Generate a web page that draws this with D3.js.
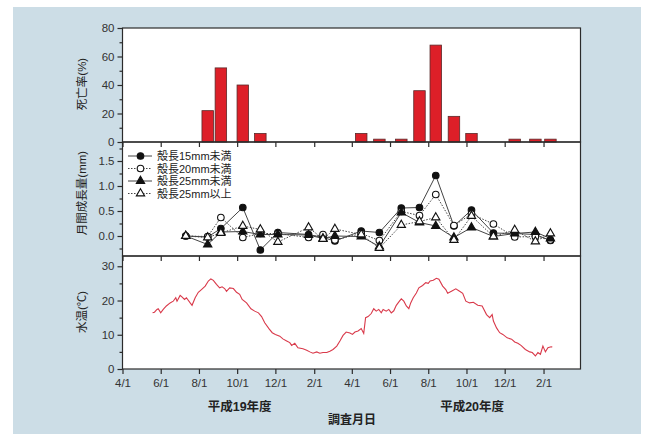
<!DOCTYPE html>
<html><head><meta charset="utf-8">
<script src="https://cdn.jsdelivr.net/npm/d3@7"></script>
<style>
body{margin:0;background:#fff;}
svg{display:block;}
text{font-family:"Liberation Sans",Arial,"Noto Sans CJK JP",sans-serif;}
</style></head><body>
<svg id="c" width="645" height="434"></svg>
<script>
// ---------- data ----------
const sampleDates = ["2007-07-11","2007-08-15","2007-09-05","2007-10-10","2007-11-07","2007-12-05",
  "2008-01-23","2008-02-15","2008-03-05","2008-04-16","2008-05-15","2008-06-19","2008-07-18",
  "2008-08-13","2008-09-11","2008-10-09","2008-11-13","2008-12-17","2009-01-19","2009-02-12"];
const mortality = [0,22,52,40,6,0,0,0,0,6,2,2,36,68,18,6,0,2,2,2];
const growth15   = [0.00,-0.02,0.15,0.57,-0.28,0.07,0.03,-0.03,-0.10,0.10,0.07,0.56,0.57,1.21,0.20,0.52,0.06,0.05,0.03,-0.09];
const growth20   = [0.00,-0.01,0.37,-0.03,0.05,0.05,-0.03,0.03,-0.08,0.05,-0.09,0.49,0.41,0.83,0.21,0.44,0.24,-0.02,-0.01,-0.08];
const growth25   = [0.00,-0.17,0.08,0.09,0.03,0.03,0.02,-0.05,0.00,-0.01,-0.21,0.47,0.27,0.20,-0.03,0.17,-0.01,0.05,0.08,-0.05];
const growth25up = [0.00,-0.03,0.06,0.20,0.13,-0.12,0.17,-0.06,0.14,0.03,-0.24,0.22,0.29,0.37,-0.08,0.40,-0.01,0.12,-0.11,0.05];
const seriesNames = ["殻長15mm未満","殻長20mm未満","殻長25mm未満","殻長25mm以上"];
// water temperature: days since 2007-04-01 and value (°C)
const tempDay = [48,51,55,57,61,65,70,76,81,85,87,92,94,99,102,108,111,116,121,126,132,137,141,145,150,155,159,163,166,171,177,182,187,191,198,205,211,217,222,227,234,239,244,251,256,262,267,270,275,280,288,294,299,304,310,315,320,326,331,336,342,347,352,357,363,367,371,376,381,385,388,392,397,401,405,409,413,416,421,425,429,433,437,442,445,449,453,457,460,464,469,473,479,484,488,491,496,501,505,511,516,519,525,532,538,543,548,554,560,567,574,581,586,590,592,597,602,607,614,621,626,631,636,643,650,654,659,663,667,671,675,679,684,686];
const tempValue = [16.4,16.6,17.4,17.6,16.4,17.4,18.4,19.3,19.8,20.8,19.8,21.5,21.2,20.3,20.8,19.3,18.6,20.8,22.4,23.2,24.2,25.7,26.3,25.9,24.7,23.7,24.0,23.5,22.7,23.7,23.5,22.4,21.8,20.3,19.3,17.6,16.9,16.4,15.3,13.5,11.7,10.6,10.1,9.6,8.8,8.2,7.7,6.9,7.5,6.2,5.9,5.5,5.0,4.6,5.0,4.6,4.8,4.8,5.2,5.7,6.7,8.2,9.8,10.8,10.5,10.1,10.8,11.1,11.8,10.4,15.0,15.3,16.2,17.6,16.9,17.4,16.4,17.4,16.9,17.4,16.4,17.0,18.6,19.8,20.5,19.8,18.4,17.6,19.3,20.8,22.2,23.7,24.4,25.2,25.0,25.7,25.9,26.5,26.2,24.2,23.2,22.1,22.7,23.4,22.7,22.1,19.8,19.3,19.5,18.6,18.4,15.9,15.0,15.9,14.0,12.0,10.6,10.1,9.1,8.7,7.9,7.5,6.9,5.7,5.0,4.8,3.8,4.8,4.3,6.7,5.0,6.2,6.5,6.4];
const monthTicks = ["2007-04-01","2007-06-01","2007-08-01","2007-10-01","2007-12-01","2008-02-01",
  "2008-04-01","2008-06-01","2008-08-01","2008-10-01","2008-12-01","2009-02-01"];
const monthLabels = ["4/1","6/1","8/1","10/1","12/1","2/1","4/1","6/1","8/1","10/1","12/1","2/1"];
const mortTicks = [0,20,40,60,80], mortMinor = [10,30,50,70];
const growthTicks = [0,0.5,1.0,1.5], growthMinor = [-0.25,0.25,0.75,1.25,1.75];
const tempTicks = [0,10,20,30], tempMinor = [5,15,25];
const fyLabels = ["平成19年度","平成20年度"];
const fyCenters = ["2007-10-05","2008-10-10"];

// ---------- layout ----------
const svg = d3.select("#c");
const L = 122.5, R = 580.5;
const P1 = [28,142], P2 = [142,256], P3 = [256,369];
const parse = d3.utcParse("%Y-%m-%d");
const base = parse("2007-04-01");
const x = d3.scaleUtc().domain([base, parse("2009-04-01")]).range([L, R]);
const yM = d3.scaleLinear().domain([0,80]).range([P1[1],P1[0]]);
const yG = d3.scaleLinear().domain([-0.4,1.88]).range([P2[1],P2[0]]);
const yT = d3.scaleLinear().domain([0,33]).range([P3[1],P3[0]]);
const AX = "#2b2b2b";

svg.append("rect").attr("x",13).attr("y",7).attr("width",628).attr("height",427).attr("fill","#ccdde6");
svg.append("rect").attr("x",L).attr("y",P1[0]).attr("width",R-L).attr("height",P3[1]-P1[0]).attr("fill","#fff");

// bars
const bw = 11.5;
svg.append("g").selectAll("rect").data(sampleDates.map((d,i)=>({d:parse(d),v:mortality[i]})).filter(o=>o.v>0))
  .join("rect")
  .attr("x",o=>x(o.d)-bw/2).attr("y",o=>yM(o.v)).attr("width",bw).attr("height",o=>yM(0)-yM(o.v))
  .attr("fill","#dd1f28").attr("stroke","#5a2a2a").attr("stroke-width",0.8);

// temperature line
const tdata = tempDay.map((d,i)=>({d:d3.utcDay.offset(base,d),v:tempValue[i]}));
svg.append("path").datum(tdata)
  .attr("d",d3.line().x(o=>x(o.d)).y(o=>yT(o.v)))
  .attr("fill","none").attr("stroke","#d9394a").attr("stroke-width",1.1);

// growth series
const series = [
  {vals:growth15, dash:null, filled:true, sym:"circle"},
  {vals:growth20, dash:"1.5,1.5", filled:false, sym:"circle"},
  {vals:growth25, dash:null, filled:true, sym:"tri"},
  {vals:growth25up, dash:"1.5,1.5", filled:false, sym:"tri"}
];
const gLine = d3.line().x(o=>x(o.d)).y(o=>yG(o.v));
series.forEach(s=>{
  const pts = sampleDates.map((d,i)=>({d:parse(d),v:s.vals[i]}));
  svg.append("path").datum(pts).attr("d",gLine).attr("fill","none")
    .attr("stroke","#444").attr("stroke-width",1).attr("stroke-dasharray",s.dash);
});
function marker(g, s, cx, cy){
  if(s.sym==="circle"){
    g.append("circle").attr("cx",cx).attr("cy",cy).attr("r",3.3)
      .attr("fill",s.filled?"#111":"#fff").attr("stroke","#111").attr("stroke-width",1.1);
  } else {
    g.append("path").attr("d",d3.symbol(d3.symbolTriangle,30)())
      .attr("transform",`translate(${cx},${cy})`)
      .attr("fill",s.filled?"#111":"#fff").attr("stroke","#111").attr("stroke-width",1.1);
  }
}
series.forEach(s=>{
  const g = svg.append("g");
  sampleDates.forEach((d,i)=>marker(g,s,x(parse(d)),yG(s.vals[i])));
});

// panel borders
[P1,P2,P3].forEach(p=>{
  svg.append("rect").attr("x",L).attr("y",p[0]).attr("width",R-L).attr("height",p[1]-p[0])
    .attr("fill","none").attr("stroke",AX).attr("stroke-width",1.2);
});

// x ticks
const mt = monthTicks.map(parse);
[P2[0],P3[0]].forEach(yy=>{
  svg.append("g").attr("transform",`translate(0,${yy})`)
    .call(d3.axisBottom(x).tickValues(mt).tickSize(5).tickFormat(""))
    .call(g=>{g.select(".domain").remove(); g.selectAll("line").attr("stroke",AX).attr("stroke-width",1.2);});
});
svg.append("g").attr("transform",`translate(0,${P3[1]})`)
  .call(d3.axisBottom(x).tickValues(mt).tickSize(5).tickPadding(5).tickFormat((d,i)=>monthLabels[i]))
  .call(g=>{g.select(".domain").remove(); g.selectAll("line").attr("stroke",AX).attr("stroke-width",1.2);
    g.selectAll("text").attr("font-size",11.5).attr("fill","#333").attr("font-family","Liberation Sans, Arial");});

// y axes
function yAxis(scale, ticks, minor, fmt){
  svg.append("g").attr("transform",`translate(${L},0)`)
    .call(d3.axisLeft(scale).tickValues(ticks).tickSize(5).tickPadding(3).tickFormat(fmt))
    .call(g=>{g.select(".domain").remove(); g.selectAll("line").attr("stroke",AX).attr("stroke-width",1.2);
      g.selectAll("text").attr("font-size",11.5).attr("fill","#333").attr("font-family","Liberation Sans, Arial");});
  svg.append("g").attr("transform",`translate(${L},0)`)
    .call(d3.axisLeft(scale).tickValues(minor).tickSize(3).tickFormat(""))
    .call(g=>{g.select(".domain").remove(); g.selectAll("line").attr("stroke",AX).attr("stroke-width",1.2);});
}
yAxis(yM, mortTicks, mortMinor, d3.format("d"));
yAxis(yG, growthTicks, growthMinor, d3.format(".1f"));
yAxis(yT, tempTicks, tempMinor, d3.format("d"));

// axis titles
const jp = "Liberation Sans, Noto Sans CJK JP";
function ytitle(txt, cy){
  svg.append("text").attr("transform",`translate(82,${cy}) rotate(-90)`)
    .attr("text-anchor","middle").attr("dominant-baseline","central")
    .attr("font-size",11.5).attr("fill","#222").attr("font-family",jp).text(txt);
}
ytitle("死亡率(%)", 84);
ytitle("月間成長量(mm)", 193);
ytitle("水温(℃)", 312);

fyLabels.forEach((t,i)=>{
  svg.append("text").attr("x",x(parse(fyCenters[i]))).attr("y",407).attr("text-anchor","middle")
    .attr("dominant-baseline","central").attr("font-size",12.5).attr("font-weight","bold")
    .attr("fill","#222").attr("font-family",jp).text(t);
});
svg.append("text").attr("x",352).attr("y",420).attr("text-anchor","middle").attr("dominant-baseline","central")
  .attr("font-size",12).attr("font-weight","bold").attr("fill","#222").attr("font-family",jp).text("調査月日");

// legend
const lg = svg.append("g");
const rowY = [156,168.5,181,193.5];
series.forEach((s,i)=>{
  lg.append("line").attr("x1",128).attr("x2",152).attr("y1",rowY[i]).attr("y2",rowY[i])
    .attr("stroke","#444").attr("stroke-width",1).attr("stroke-dasharray",s.dash);
  marker(lg,s,140.5,rowY[i]);
  lg.append("text").attr("x",157).attr("y",rowY[i]).attr("dominant-baseline","central")
    .attr("font-size",11).attr("fill","#222").attr("font-family",jp).text(seriesNames[i]);
});
</script>
</body></html>
